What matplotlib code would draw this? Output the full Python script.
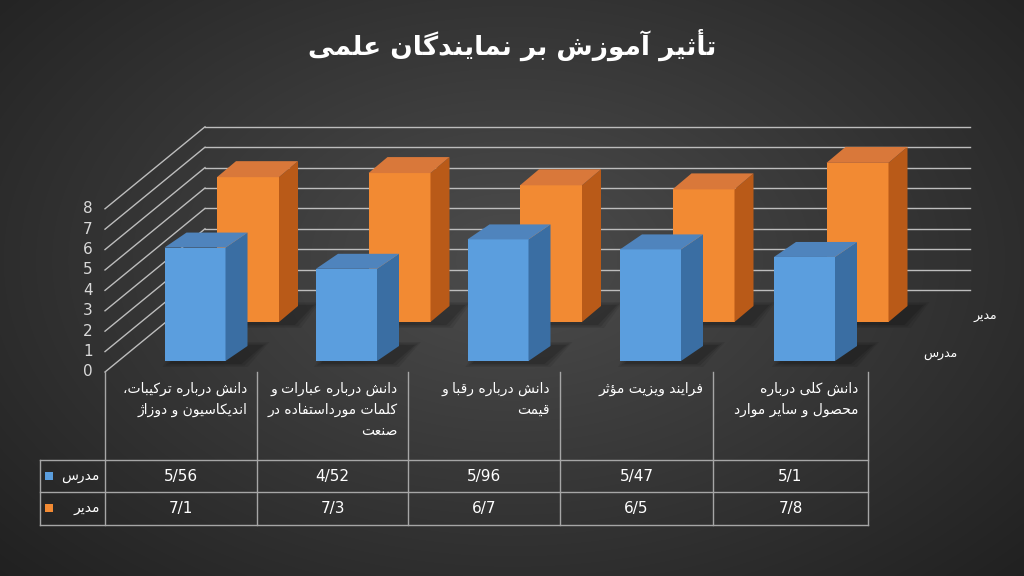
import numpy as np
import matplotlib
matplotlib.use("Agg")
import matplotlib.pyplot as plt
from matplotlib.patches import Polygon

title = "تأثیر آموزش بر نمایندگان علمی"
categories = [
    ["دانش درباره ترکیبات،", "اندیکاسیون و دوزاژ"],
    ["دانش درباره عبارات و", "کلمات مورداستفاده در", "صنعت"],
    ["دانش درباره رقبا و", "قیمت"],
    ["فرایند ویزیت مؤثر"],
    ["دانش کلی درباره", "محصول و سایر موارد"],
]
series_names = ["مدرس", "مدیر"]
teacher = [5.56, 4.52, 5.96, 5.47, 5.1]
manager = [7.1, 7.3, 6.7, 6.5, 7.8]
yticks = list(range(0, 9))

# ---------- minimal Arabic/Persian shaper ----------
FORMS = {
    'ا': (0xFE8D, 0xFE8E), 'آ': (0xFE81, 0xFE82), 'أ': (0xFE83, 0xFE84), 'ؤ': (0xFE85, 0xFE86),
    'د': (0xFEA9, 0xFEAA), 'ذ': (0xFEAB, 0xFEAC), 'ر': (0xFEAD, 0xFEAE), 'ز': (0xFEAF, 0xFEB0),
    'ژ': (0xFB8A, 0xFB8B), 'و': (0xFEED, 0xFEEE),
    'ب': (0xFE8F, 0xFE90, 0xFE91, 0xFE92), 'پ': (0xFB56, 0xFB57, 0xFB58, 0xFB59),
    'ت': (0xFE95, 0xFE96, 0xFE97, 0xFE98), 'ث': (0xFE99, 0xFE9A, 0xFE9B, 0xFE9C),
    'ج': (0xFE9D, 0xFE9E, 0xFE9F, 0xFEA0), 'چ': (0xFB7A, 0xFB7B, 0xFB7C, 0xFB7D),
    'ح': (0xFEA1, 0xFEA2, 0xFEA3, 0xFEA4), 'خ': (0xFEA5, 0xFEA6, 0xFEA7, 0xFEA8),
    'س': (0xFEB1, 0xFEB2, 0xFEB3, 0xFEB4), 'ش': (0xFEB5, 0xFEB6, 0xFEB7, 0xFEB8),
    'ص': (0xFEB9, 0xFEBA, 0xFEBB, 0xFEBC), 'ض': (0xFEBD, 0xFEBE, 0xFEBF, 0xFEC0),
    'ط': (0xFEC1, 0xFEC2, 0xFEC3, 0xFEC4), 'ظ': (0xFEC5, 0xFEC6, 0xFEC7, 0xFEC8),
    'ع': (0xFEC9, 0xFECA, 0xFECB, 0xFECC), 'غ': (0xFECD, 0xFECE, 0xFECF, 0xFED0),
    'ف': (0xFED1, 0xFED2, 0xFED3, 0xFED4), 'ق': (0xFED5, 0xFED6, 0xFED7, 0xFED8),
    'ک': (0xFB8E, 0xFB8F, 0xFB90, 0xFB91), 'گ': (0xFB92, 0xFB93, 0xFB94, 0xFB95),
    'ل': (0xFEDD, 0xFEDE, 0xFEDF, 0xFEE0), 'م': (0xFEE1, 0xFEE2, 0xFEE3, 0xFEE4),
    'ن': (0xFEE5, 0xFEE6, 0xFEE7, 0xFEE8), 'ه': (0xFEE9, 0xFEEA, 0xFEEB, 0xFEEC),
    'ی': (0xFBFC, 0xFBFD, 0xFBFE, 0xFBFF), 'ئ': (0xFE89, 0xFE8A, 0xFE8B, 0xFE8C),
}


def shape(s):
    out = []
    n = len(s)
    for i, c in enumerate(s):
        if c not in FORMS:
            out.append(c)
            continue
        prev = s[i - 1] if i > 0 else None
        nxt = s[i + 1] if i + 1 < n else None
        jp = prev in FORMS and len(FORMS[prev]) == 4
        jn = nxt in FORMS and len(FORMS[c]) == 4
        f = FORMS[c]
        if jp and jn:
            out.append(chr(f[3]))
        elif jp:
            out.append(chr(f[1]))
        elif jn:
            out.append(chr(f[2]))
        else:
            out.append(chr(f[0]))
    return "".join(out)[::-1]


plt.rcParams['font.family'] = ['DejaVu Sans']

fig = plt.figure(figsize=(10.24, 5.76), dpi=100)
ax = fig.add_axes([0, 0, 1, 1])
ax.set_xlim(0, 1024)
ax.set_ylim(576, 0)
ax.axis('off')

# background radial gradient
yy, xx = np.mgrid[0:576, 0:1024]
r = np.sqrt(((xx - 512) / 700.0) ** 2 + ((yy - 260) / 450.0) ** 2)
g = np.clip(0.30 - 0.17 * r, 0.1, 0.3)
ax.imshow(np.dstack([g, g, g]), extent=[0, 1024, 576, 0], zorder=0)

ax.text(512, 45, shape(title), color='white', fontsize=19, fontweight='bold',
        ha='center', va='center')

# scales
unit = 20.4
y0_front = 372
back_dx, back_dy = 100, -82
grid_col = '#bdbdbd'
for t in yticks:
    yf = y0_front - unit * t
    ax.plot([105, 105 + back_dx], [yf, yf + back_dy], color=grid_col, lw=1, zorder=1)
    ax.plot([105 + back_dx, 970], [yf + back_dy, yf + back_dy], color=grid_col, lw=1, zorder=1)
    ax.text(88, yf, str(t), color='#d9d9d9', fontsize=11, ha='center', va='center')

col_edges = [105, 257, 408, 560, 713, 868]
col_centers = [(col_edges[i] + col_edges[i + 1]) / 2 for i in range(5)]


def bar3d(xc, base, h, w, dx, dy, front, side, top, z):
    x0, x1 = xc - w / 2, xc + w / 2
    yt = base - h
    for k, a in [(8, 0.08), (5, 0.1), (2, 0.12)]:
        ax.add_patch(Polygon([[x0 - k + 6, base + 2 + k / 2], [x1 + 14 + k, base + 2 + k / 2],
                              [x1 + dx + 14 + k, base + dy - k / 2], [x0 + dx - k, base + dy - k / 2]],
                             closed=True, color='black', alpha=a, lw=0, zorder=z - 0.5))
    ax.add_patch(Polygon([[x0, base], [x1, base], [x1, yt], [x0, yt]], closed=True, color=front, lw=0, zorder=z))
    ax.add_patch(Polygon([[x1, base], [x1 + dx, base + dy], [x1 + dx, yt + dy], [x1, yt]], closed=True, color=side, lw=0, zorder=z))
    ax.add_patch(Polygon([[x0, yt], [x1, yt], [x1 + dx, yt + dy], [x0 + dx, yt + dy]], closed=True, color=top, lw=0, zorder=z))


for i in range(5):
    bar3d(col_centers[i] + 67, 322, manager[i] * unit, 62, 19, -16,
          '#f28a33', '#b95a18', '#d9783a', 3)
    bar3d(col_centers[i] + 14, 361, teacher[i] * unit, 61, 22, -15,
          '#5b9ede', '#3a6ea3', '#4f84bd', 5)

ax.text(985, 316, shape(series_names[1]), color='white', fontsize=9, ha='center', va='center')
ax.text(940, 354, shape(series_names[0]), color='white', fontsize=9, ha='center', va='center')

# table
tcol = '#a6a6a6'
for x in col_edges:
    ax.plot([x, x], [372, 525], color=tcol, lw=1, zorder=2)
ax.plot([40, 40], [460, 525], color=tcol, lw=1)
for y in [460, 492, 525]:
    ax.plot([40, 868], [y, y], color=tcol, lw=1)

for i, lines in enumerate(categories):
    ax.text(col_edges[i + 1] - 10, 382, "\n".join(shape(l) for l in lines), color='white',
            fontsize=10, ha='right', va='top', linespacing=1.6)


def fmt(v):
    return f"{v:g}".replace('.', '/')


rows = [(teacher, 476, '#5b9ede', series_names[0]), (manager, 508, '#f28a33', series_names[1])]
for vals, y, c, name in rows:
    ax.add_patch(Polygon([[45, y - 4], [53, y - 4], [53, y + 4], [45, y + 4]], closed=True, color=c, lw=0))
    ax.text(100, y, shape(name), color='white', fontsize=10, ha='right', va='center')
    for i, v in enumerate(vals):
        ax.text(col_centers[i], y, fmt(v), color='white', fontsize=11, ha='center', va='center')

fig.savefig("out.png", dpi=100)
